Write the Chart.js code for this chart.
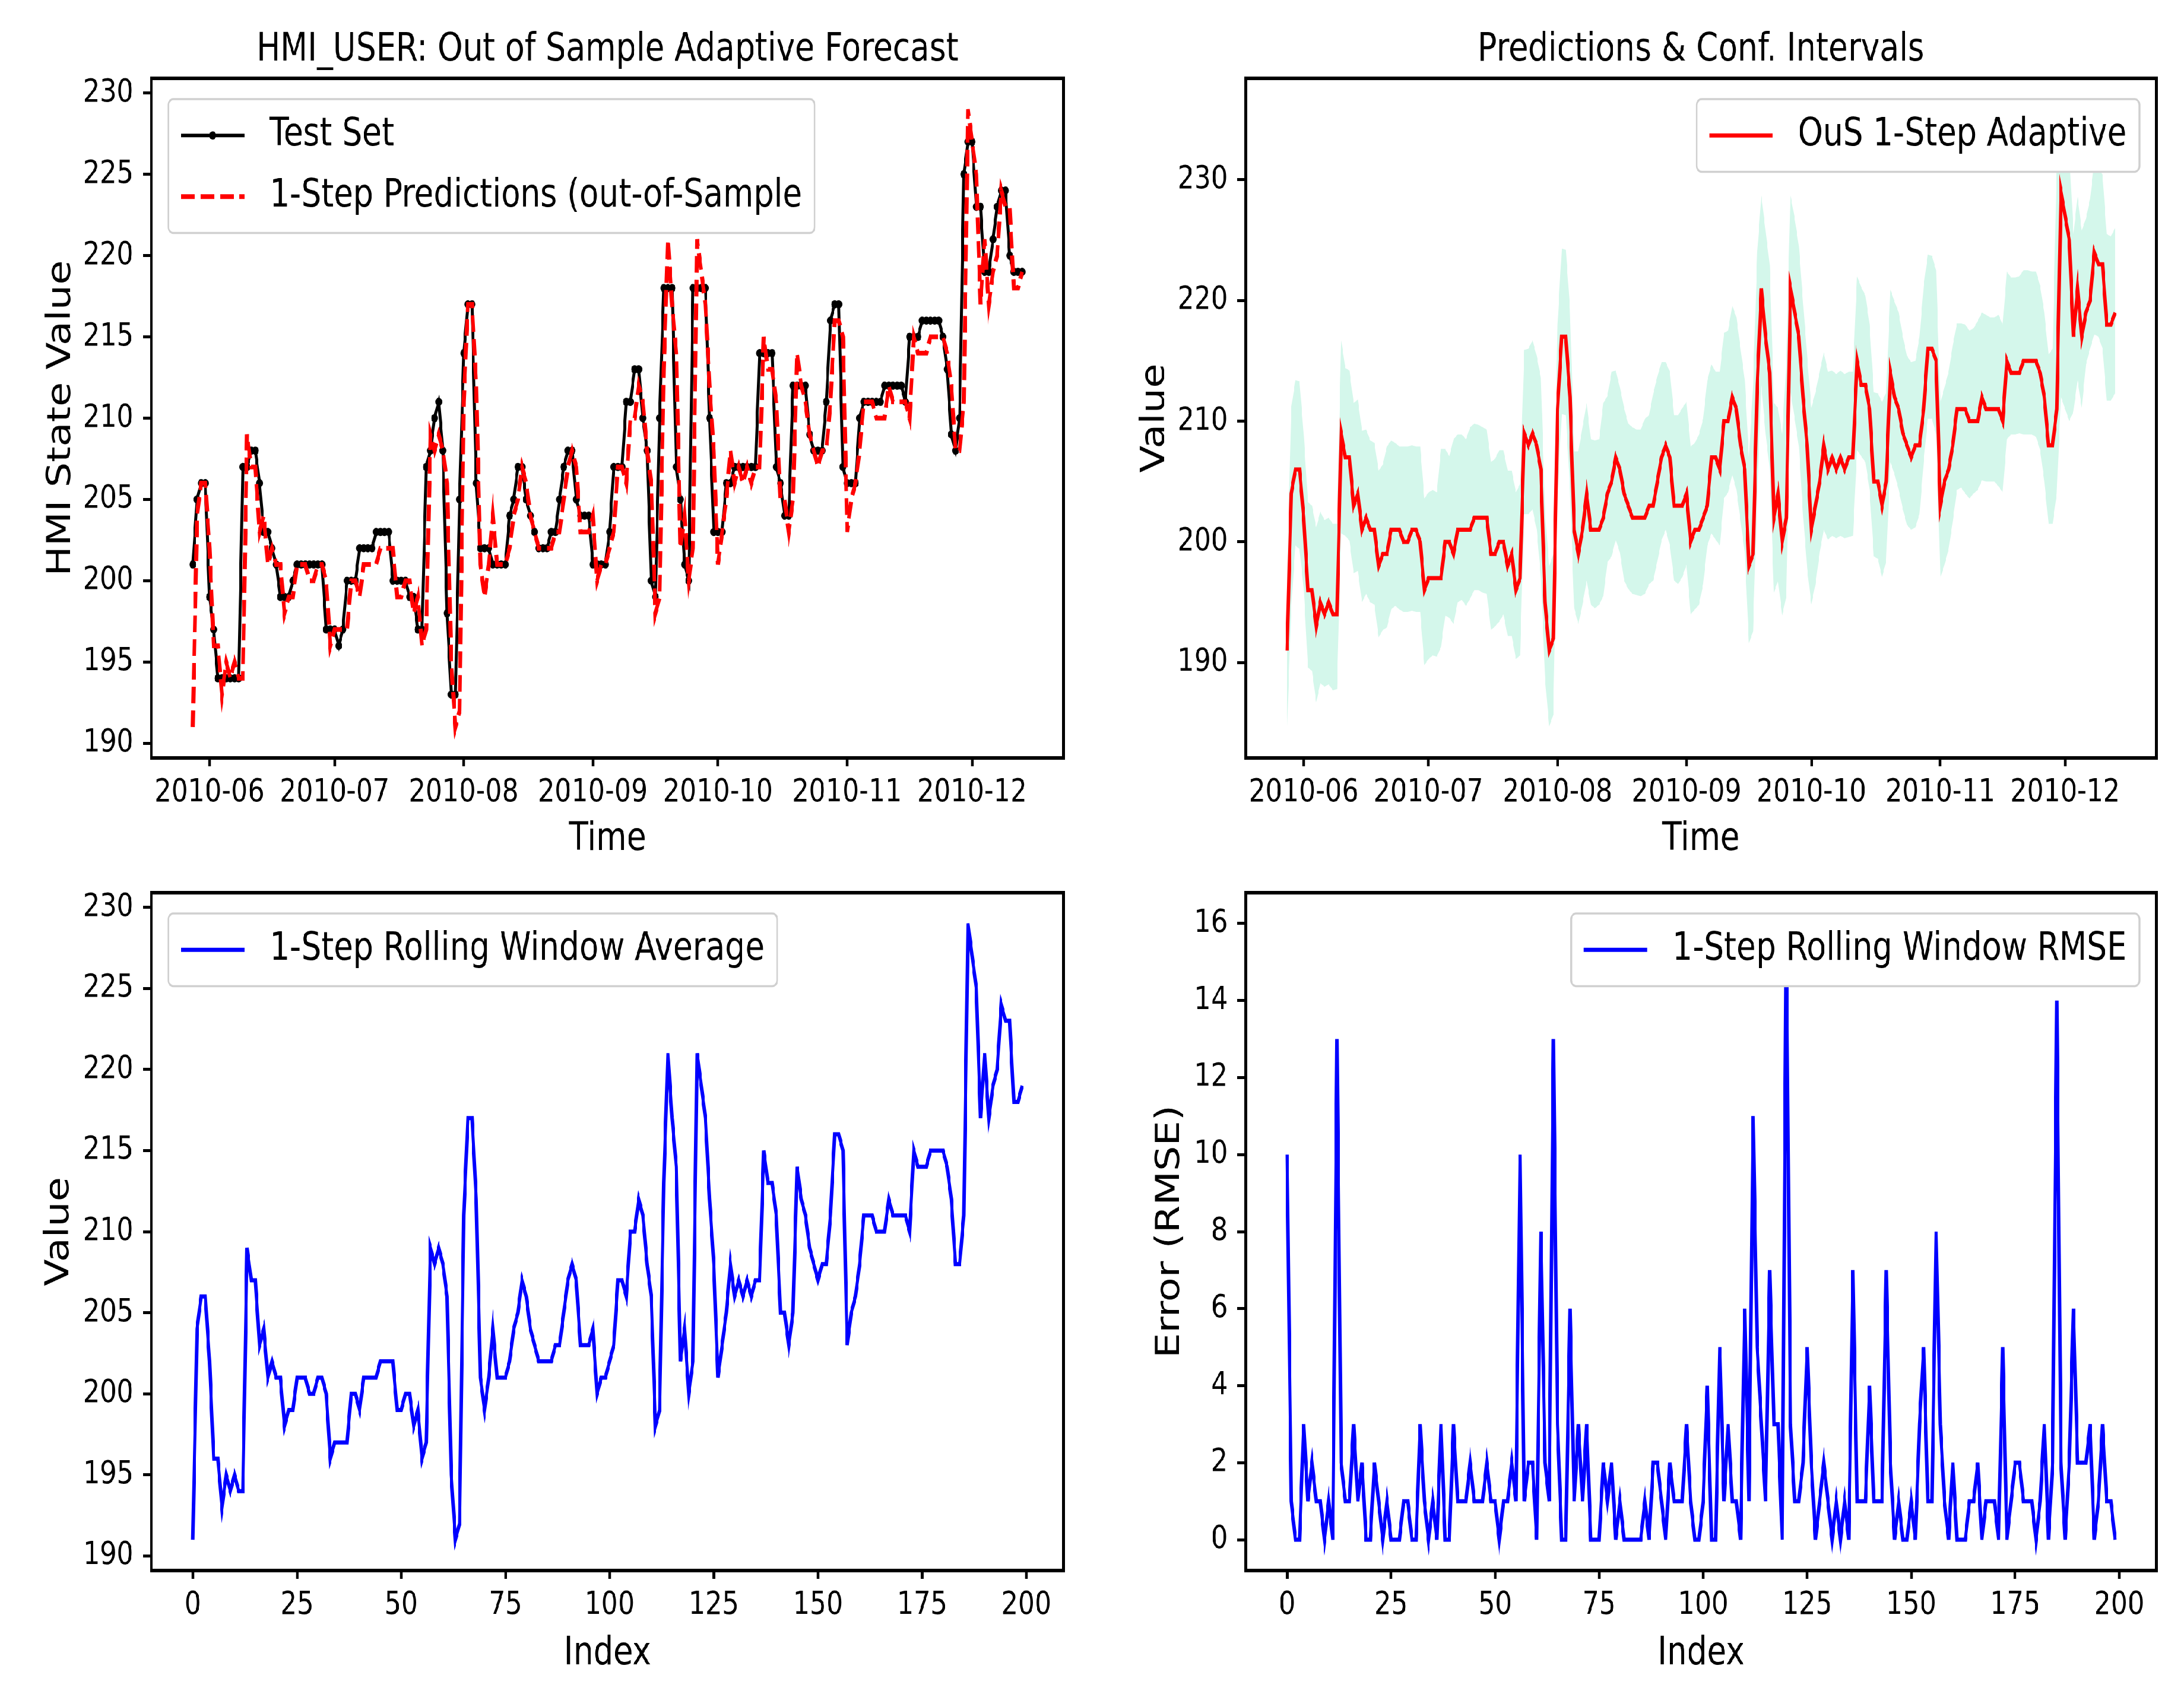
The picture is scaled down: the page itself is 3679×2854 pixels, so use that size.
<!DOCTYPE html>
<html>
<head>
<meta charset="utf-8">
<title>HMI_USER adaptive forecast</title>
<script src="https://cdn.jsdelivr.net/npm/chart.js@4.4.1/dist/chart.umd.min.js"></script>
<style>
  html, body { margin: 0; padding: 0; background: #fff; overflow: hidden; }
  /* the reference figure is horizontally condensed, so draw wide and squeeze */
  #fig { position: absolute; left: 0; top: 0; width: 4487px; height: 2854px;
         transform: scaleX(0.82); transform-origin: 0 0; }
  #fig canvas { position: absolute; }
</style>
</head>
<body>
<div id="fig">
  <canvas id="tl" width="2245" height="1480" style="left:0px;top:0px"></canvas>
  <canvas id="tr" width="2242" height="1480" style="left:2245px;top:0px"></canvas>
  <canvas id="bl" width="2245" height="1414" style="left:0px;top:1440px"></canvas>
  <canvas id="br" width="2242" height="1414" style="left:2245px;top:1440px"></canvas>
</div>
<script>
// daily series, first day 2010-05-28
var startDate = '2010-05-28';
var monthTicks = ['2010-06', '2010-07', '2010-08', '2010-09', '2010-10', '2010-11', '2010-12'];

var testSet = [
  201, 205, 206, 206, 199, 197, 194, 194, 194, 194,
  194, 194, 207, 207, 208, 208, 206, 203, 203, 202,
  201, 199, 199, 199, 200, 201, 201, 201, 201, 201,
  201, 201, 197, 197, 197, 196, 197, 200, 200, 200,
  202, 202, 202, 202, 203, 203, 203, 203, 200, 200,
  200, 200, 199, 199, 197, 197, 207, 208, 210, 211,
  208, 198, 193, 193, 205, 214, 217, 217, 206, 202,
  202, 202, 201, 201, 201, 201, 204, 205, 207, 207,
  205, 204, 203, 202, 202, 202, 203, 203, 205, 207,
  208, 208, 205, 204, 204, 204, 201, 201, 201, 201,
  203, 207, 207, 207, 211, 211, 213, 213, 210, 208,
  200, 199, 210, 218, 218, 218, 207, 205, 201, 200,
  218, 218, 218, 218, 210, 203, 203, 203, 206, 206,
  207, 207, 207, 207, 207, 207, 214, 214, 214, 214,
  207, 206, 204, 204, 212, 212, 212, 212, 209, 208,
  208, 208, 211, 216, 217, 217, 207, 206, 206, 206,
  210, 211, 211, 211, 211, 211, 212, 212, 212, 212,
  212, 211, 215, 215, 215, 216, 216, 216, 216, 216,
  215, 213, 209, 208, 210, 225, 227, 227, 223, 223,
  219, 219, 221, 223, 224, 224, 220, 219, 219, 219
];

var predictions = [
  191, 204, 206, 206, 202, 196, 196, 193, 195, 194,
  195, 194, 194, 209, 207, 207, 203, 204, 201, 202,
  201, 201, 198, 199, 199, 201, 201, 201, 200, 200,
  201, 201, 200, 196, 197, 197, 197, 197, 200, 200,
  199, 201, 201, 201, 201, 202, 202, 202, 202, 199,
  199, 200, 200, 198, 199, 196, 197, 209, 208, 209,
  208, 206, 195, 191, 192, 211, 217, 217, 212, 201,
  199, 201, 204, 201, 201, 201, 202, 204, 205, 207,
  206, 204, 203, 202, 202, 202, 202, 203, 203, 205,
  207, 208, 207, 203, 203, 203, 204, 200, 201, 201,
  202, 203, 207, 207, 206, 210, 210, 212, 211, 208,
  206, 198, 199, 213, 221, 217, 214, 202, 204, 200,
  202, 221, 219, 217, 212, 208, 201, 203, 205, 208,
  206, 207, 206, 207, 206, 207, 207, 215, 213, 213,
  211, 205, 205, 203, 205, 214, 212, 211, 209, 208,
  207, 208, 208, 211, 216, 216, 215, 203, 205, 206,
  208, 211, 211, 211, 210, 210, 210, 212, 211, 211,
  211, 211, 210, 215, 214, 214, 214, 215, 215, 215,
  215, 214, 212, 208, 208, 211, 229, 227, 225, 217,
  221, 217, 219, 220, 224, 223, 223, 218, 218, 219
];

var ciUpper = [
  197.3, 211.1, 213.4, 213.3, 208.9, 203.3, 203.0, 201.2, 202.5, 201.8,
  202.0, 201.5, 201.5, 216.7, 214.4, 214.2, 211.5, 211.8, 209.2, 209.3,
  208.4, 208.2, 205.9, 206.4, 207.9, 208.4, 208.2, 207.9, 207.9, 207.9,
  208.0, 207.9, 207.9, 203.6, 204.1, 204.3, 204.1, 207.7, 207.7, 207.1,
  208.5, 208.9, 208.9, 208.5, 209.5, 209.8, 209.7, 209.5, 209.3, 206.6,
  206.9, 207.6, 207.6, 205.9, 205.9, 204.1, 204.8, 215.9, 216.0, 216.7,
  215.4, 213.6, 202.5, 198.0, 199.0, 218.0, 224.3, 224.2, 219.3, 207.5,
  207.5, 209.5, 211.5, 208.5, 208.4, 208.5, 211.5, 212.1, 214.1, 214.2,
  212.8, 211.1, 209.8, 209.5, 209.3, 209.3, 210.2, 210.5, 212.3, 213.7,
  214.9, 214.9, 214.1, 210.5, 210.5, 211.1, 211.6, 207.9, 208.2, 208.9,
  210.2, 213.4, 214.7, 214.1, 214.1, 217.3, 217.5, 219.6, 218.6, 216.0,
  213.4, 207.0, 213.0, 224.0, 228.7, 225.8, 222.9, 211.5, 211.1, 208.9,
  215.0, 228.7, 226.8, 224.5, 219.9, 215.4, 211.1, 212.4, 214.1, 215.7,
  214.1, 214.2, 213.9, 214.2, 213.9, 214.1, 214.1, 222.0, 221.1, 220.4,
  218.0, 212.4, 212.3, 211.6, 212.4, 220.9, 219.9, 219.0, 217.0, 215.4,
  214.9, 215.0, 217.0, 221.2, 223.8, 223.7, 222.5, 211.5, 212.8, 214.1,
  216.3, 218.1, 218.1, 218.0, 217.5, 217.7, 218.3, 219.0, 218.8, 218.6,
  218.6, 218.8, 218.0, 222.4, 221.9, 221.9, 222.0, 222.5, 222.5, 222.4,
  222.4, 221.2, 219.0, 215.5, 216.0, 231.5, 236.0, 234.5, 232.5, 225.5,
  228.6, 225.8, 226.8, 228.4, 231.5, 231.0, 230.4, 225.5, 225.3, 226.0
];

var ciLower = [
  184.7, 194.5, 199.7, 199.4, 196.1, 189.6, 189.3, 186.7, 188.3, 188.0,
  188.2, 187.7, 187.8, 200.7, 200.5, 200.1, 197.4, 197.6, 195.0, 195.7,
  195.0, 194.8, 192.1, 192.7, 192.9, 194.4, 194.7, 194.4, 194.2, 194.2,
  194.3, 194.2, 194.2, 189.8, 190.3, 190.6, 190.5, 191.3, 193.9, 193.7,
  193.2, 195.0, 195.2, 194.7, 195.3, 196.0, 196.0, 195.8, 195.7, 192.7,
  193.0, 193.4, 194.0, 192.2, 192.2, 190.3, 190.6, 202.3, 202.3, 202.7,
  201.0, 197.1, 188.7, 184.7, 185.7, 204.0, 210.6, 210.5, 204.3, 194.5,
  193.2, 194.8, 196.8, 194.8, 194.5, 194.8, 195.5, 198.3, 198.8, 200.2,
  199.1, 196.8, 196.1, 195.7, 195.6, 195.5, 195.7, 196.5, 196.8, 198.4,
  200.1, 201.0, 199.7, 196.8, 196.5, 197.1, 198.1, 194.0, 194.4, 194.8,
  196.5, 199.7, 200.7, 200.2, 199.7, 203.6, 204.1, 205.6, 204.3, 201.7,
  199.1, 191.6, 192.6, 204.0, 213.0, 209.0, 206.0, 195.8, 196.8, 193.9,
  195.5, 212.4, 210.2, 207.9, 202.3, 197.8, 194.8, 196.5, 199.1, 201.0,
  200.2, 200.5, 200.3, 200.5, 200.3, 200.4, 200.5, 207.6, 207.1, 206.6,
  204.3, 198.8, 198.6, 197.1, 198.4, 206.6, 205.6, 204.3, 202.7, 201.4,
  201.0, 201.2, 202.3, 206.6, 210.2, 210.2, 208.9, 197.0, 198.1, 199.4,
  201.7, 204.3, 204.5, 204.0, 203.6, 204.0, 204.3, 205.1, 205.0, 205.0,
  205.0, 204.6, 204.1, 208.5, 208.9, 208.9, 209.0, 208.9, 208.9, 208.9,
  208.7, 207.6, 205.0, 201.5, 201.5, 204.0, 212.0, 211.0, 210.0, 210.8,
  213.4, 211.1, 214.7, 216.0, 217.2, 217.0, 216.0, 211.7, 211.7, 212.3
];

var rmse = [
  10, 1, 0, 0, 3, 1, 2, 1, 1, 0,
  1, 0, 13, 2, 1, 1, 3, 1, 2, 0,
  0, 2, 1, 0, 1, 0, 0, 0, 1, 1,
  0, 0, 3, 1, 0, 1, 0, 3, 0, 0,
  3, 1, 1, 1, 2, 1, 1, 1, 2, 1,
  1, 0, 1, 1, 2, 1, 10, 1, 2, 2,
  0, 8, 2, 1, 13, 3, 0, 0, 6, 1,
  3, 1, 3, 0, 0, 0, 2, 1, 2, 0,
  1, 0, 0, 0, 0, 0, 1, 0, 2, 2,
  1, 0, 2, 1, 1, 1, 3, 1, 0, 0,
  1, 4, 0, 0, 5, 1, 3, 1, 1, 0,
  6, 1, 11, 5, 3, 1, 7, 3, 3, 0,
  16, 3, 1, 1, 2, 5, 2, 0, 1, 2,
  1, 0, 1, 0, 1, 0, 7, 1, 1, 1,
  4, 1, 1, 1, 7, 2, 0, 1, 0, 0,
  1, 0, 3, 5, 1, 1, 8, 3, 1, 0,
  2, 0, 0, 0, 1, 1, 2, 0, 1, 1,
  1, 0, 5, 0, 1, 2, 2, 1, 1, 1,
  0, 1, 3, 0, 2, 14, 2, 0, 2, 6,
  2, 2, 2, 3, 0, 1, 3, 1, 1, 0
];

Chart.defaults.font.family = '"DejaVu Sans", sans-serif';
Chart.defaults.color = '#000';

// day number of each month tick, counted from startDate
var monthDays = monthTicks.map(function (m) {
  return (Date.parse(m + '-01') - Date.parse(startDate)) / 86400000;
});

function points(values) {
  return values.map(function (v, i) { return { x: i, y: v }; });
}

// top and right spines (matplotlib box)
var spines = {
  id: 'spines',
  afterDraw: function (chart) {
    var a = chart.chartArea, ctx = chart.ctx;
    ctx.save();
    ctx.strokeStyle = '#000';
    ctx.lineWidth = 6;
    ctx.strokeRect(a.left, a.top, a.right - a.left, a.bottom - a.top);
    ctx.restore();
  }
};

// legend drawn inside the axes, laid out like matplotlib's
var mplLegend = {
  id: 'mplLegend',
  afterDatasetsDraw: function (chart, args, opts) {
    var items = chart.data.datasets.filter(function (d) { return !!d.label; });
    var ctx = chart.ctx, a = chart.chartArea, fs = opts.fontSize;
    ctx.save();
    ctx.font = fs + 'px "DejaVu Sans"';
    var textW = Math.max.apply(null, items.map(function (d) { return ctx.measureText(d.label).width; }));
    var pad = 0.4 * fs, handle = 2 * fs, tpad = 0.8 * fs, rowH = 1.085 * fs, gap = 0.5 * fs;
    var w = 2 * pad + handle + tpad + textW;
    var h = 2 * pad + items.length * rowH + (items.length - 1) * gap;
    var x = opts.loc === 'upper right' ? a.right - opts.axPad - w : a.left + opts.axPad;
    var y = a.top + opts.axPad;

    ctx.beginPath();
    ctx.roundRect(x, y, w, h, 10);
    ctx.fillStyle = '#ffffff';
    ctx.fill();
    ctx.lineWidth = 3.5;
    ctx.strokeStyle = '#d0d0d0';
    ctx.stroke();

    items.forEach(function (d, i) {
      var cy = y + pad + rowH / 2 + i * (rowH + gap);
      ctx.beginPath();
      ctx.setLineDash(d.borderDash || []);
      ctx.strokeStyle = d.borderColor;
      ctx.lineWidth = d.borderWidth;
      ctx.moveTo(x + pad, cy);
      ctx.lineTo(x + pad + handle, cy);
      ctx.stroke();
      ctx.setLineDash([]);
      if (d.pointRadius > 0) {
        ctx.beginPath();
        ctx.arc(x + pad + handle / 2, cy, d.pointRadius, 0, Math.PI * 2);
        ctx.fillStyle = d.pointBackgroundColor;
        ctx.fill();
      }
      ctx.fillStyle = '#000';
      ctx.textAlign = 'left';
      ctx.textBaseline = 'middle';
      ctx.fillText(d.label, x + pad + handle + tpad, cy);
    });
    ctx.restore();
  }
};

function xAxis(isDate, boxHeight, titleText, titleGap) {
  var axis = {
    type: 'linear',
    min: -9.95,
    max: 208.95,
    afterFit: function (s) { s.height = boxHeight; },
    ticks: { font: { size: 54 }, color: '#000', padding: 13, maxRotation: 0, minRotation: 0, autoSkip: false },
    grid: { drawOnChartArea: false, tickLength: 14, tickWidth: 5.5, tickColor: '#000' },
    border: { display: false },
    title: { display: true, text: titleText, font: { size: 65 }, color: '#000', padding: { top: 0, bottom: titleGap } }
  };
  if (isDate) {
    axis.afterBuildTicks = function (s) { s.ticks = monthDays.map(function (v) { return { value: v }; }); };
    axis.ticks.callback = function (v, i) { return monthTicks[i]; };
  } else {
    axis.ticks.stepSize = 25;
    axis.ticks.includeBounds = false;
  }
  return axis;
}

function yAxis(min, max, step, boxWidth, titleText, titleGap) {
  return {
    type: 'linear',
    min: min,
    max: max,
    afterFit: function (s) { s.width = boxWidth; },
    ticks: { stepSize: step, includeBounds: false, font: { size: 54 }, color: '#000', padding: 20 },
    grid: { drawOnChartArea: false, tickLength: 17, tickWidth: 5, tickColor: '#000' },
    border: { display: false },
    title: { display: true, text: titleText, font: { size: 67 }, color: '#000', padding: { top: titleGap, bottom: 0 } }
  };
}

function panel(id, datasets, title, padding, legendLoc, scales) {
  return new Chart(document.getElementById(id), {
    type: 'line',
    data: { datasets: datasets },
    options: {
      responsive: false,
      animation: false,
      devicePixelRatio: 1,
      events: [],
      layout: { padding: padding },
      elements: { line: { tension: 0 } },
      plugins: {
        legend: { display: false },
        tooltip: { enabled: false },
        title: title ? {
          display: true, text: title, fullSize: false, color: '#000',
          font: { size: 65, weight: 'normal' }, padding: { top: 46, bottom: 8 }
        } : { display: false },
        mplLegend: { loc: legendLoc, fontSize: 65, axPad: 35 }
      },
      scales: scales
    },
    plugins: [spines, mplLegend]
  });
}

panel('tl', [
  { label: 'Test Set', data: points(testSet), borderColor: '#000000', backgroundColor: '#000000',
    borderWidth: 6, pointRadius: 7, pointBackgroundColor: '#000000', pointBorderWidth: 0, order: 1 },
  { label: '1-Step Predictions (out-of-Sample', data: points(predictions), borderColor: '#ff0000',
    borderWidth: 8, borderDash: [28, 12], pointRadius: 0, order: 0 }
], 'HMI_USER: Out of Sample Adaptive Forecast', { left: 0, right: 60, top: 0, bottom: 0 }, 'upper left', {
  x: xAxis(true, 203, 'Time', 26),
  y: yAxis(189.1, 230.9, 5, 311, 'HMI State Value', 86)
});

panel('tr', [
  { label: 'OuS 1-Step Adaptive', data: points(predictions), borderColor: '#ff0000',
    borderWidth: 7, pointRadius: 0, order: 0 },
  { data: points(ciUpper), borderWidth: 0, borderColor: 'rgba(0,0,0,0)', pointRadius: 0,
    backgroundColor: '#d4f7eb', fill: '+1', order: 1 },
  { data: points(ciLower), borderWidth: 0, borderColor: 'rgba(0,0,0,0)', pointRadius: 0, order: 2 }
], 'Predictions & Conf. Intervals', { left: 0, right: 57, top: 0, bottom: 0 }, 'upper right', {
  x: xAxis(true, 203, 'Time', 26),
  y: yAxis(182.1, 238.4, 10, 314, 'Value', 88)
});

panel('bl', [
  { label: '1-Step Rolling Window Average', data: points(predictions), borderColor: '#0000ff',
    borderWidth: 7, pointRadius: 0 }
], null, { left: 0, right: 60, top: 64, bottom: 0 }, 'upper left', {
  x: xAxis(false, 208, 'Index', 28),
  y: yAxis(189.1, 230.9, 5, 311, 'Value', 82)
});

panel('br', [
  { label: '1-Step Rolling Window RMSE', data: points(rmse), borderColor: '#0000ff',
    borderWidth: 7, pointRadius: 0 }
], null, { left: 0, right: 57, top: 64, bottom: 0 }, 'upper right', {
  x: xAxis(false, 208, 'Index', 28),
  y: yAxis(-0.8, 16.8, 2, 314, 'Error (RMSE)', 119)
});
</script>
</body>
</html>
